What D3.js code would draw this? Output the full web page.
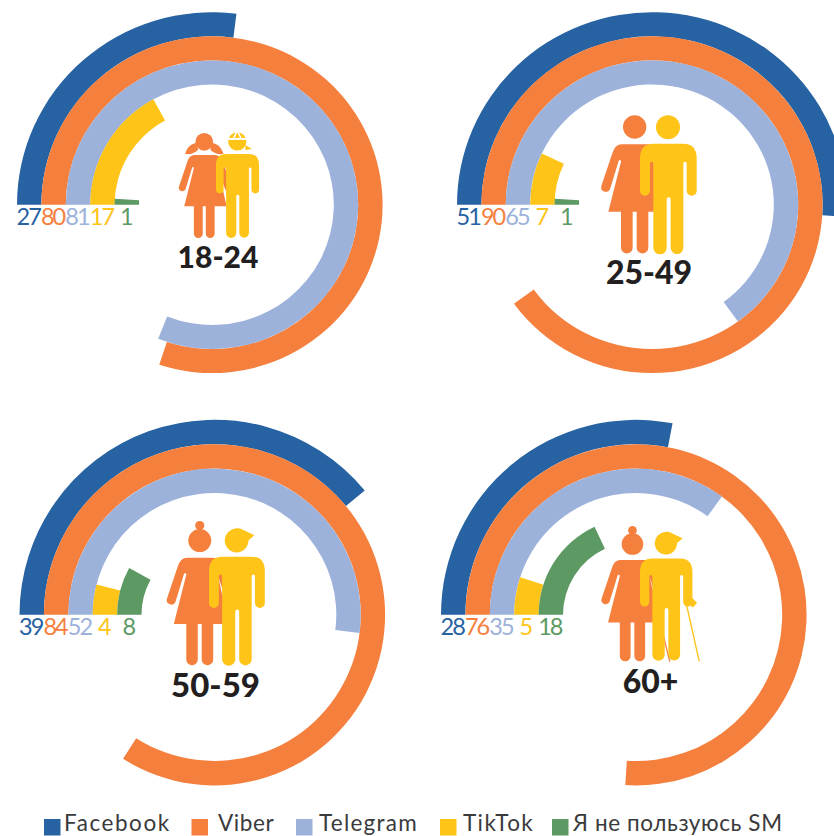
<!DOCTYPE html>
<html><head><meta charset="utf-8">
<script src="https://cdnjs.cloudflare.com/ajax/libs/d3/7.8.5/d3.min.js"></script>
<style>html,body{margin:0;padding:0;background:#fff;overflow:hidden}svg{display:block}</style>
</head><body>
<script>
const ageGroups = ["18-24","25-49","50-59","60+"];
const seriesNames = ["Facebook","Viber","Telegram","TikTok","Я не пользуюсь SM"];
const facebook = [27,51,39,28];
const viber = [80,90,84,76];
const telegram = [81,65,52,35];
const tiktok = [17,7,4,5];
const noSM = [1,1,8,18];
const seriesValues = [facebook,viber,telegram,tiktok,noSM];
const colors = ["#2762a3","#f5803e","#9db2db","#fec418","#5c9963"];

const W=834,H=836;
const svg=d3.select("body").append("svg").attr("width",W).attr("height",H);
const angle=d3.scaleLinear().domain([0,100]).range([-Math.PI/2,1.5*Math.PI]);
const radius=d3.scaleLinear().domain([0,5]).range([195,73]);
const arc=d3.arc();
const centers=[[212,204],[652,204],[214.5,614.5],[636,614.5]];
const ringSquash=[0.987,0.987,1,1];
const ringShift=[0.7,0.7,0.3,0.3];
const titleLayout=[[218,268,30],[649,284,32],[215.5,697,33],[650.5,693,32]];
const font="Lato, 'Noto Sans', sans-serif";

// figure shapes, in one shared icon space
const womanD="M545,133H625Q650,133 660,165L692,262A14,14 0 0 1 668,272L640,190L672,335H625V443A17.5,17.5 0 0 1 590,443V335H578V443A17.5,17.5 0 0 1 543,443V335H505L543,185A3.5,3.5 0 0 0 536,183L510,268A14,14 0 0 1 484,258L517,160Q525,133 545,133Z";
const manD="M640,131H730Q770,131 770,175V272A15,15 0 0 1 740,272V190A5,5 0 0 0 730,190V443A19,19 0 0 1 692,443V298A6,6 0 0 0 680,298V443A19,19 0 0 1 640,443V190A5,5 0 0 0 630,190V272A15,15 0 0 1 600,272V175Q600,131 640,131Z";
const figures=[
 {w:[56.3,121.3,.76],m:[64,120.7,.76],style:"young"},
 {w:[440,100,1],m:[440,100,1],style:"adult"},
 {w:[8,514,.985],m:[12,513.7,.985],style:"middle"},
 {w:[452,519,.927],m:[455,518,.925],style:"old"}
];

ageGroups.forEach((g,i)=>{
  const [cx,cy]=centers[i];
  const ring=svg.append("g").attr("transform",`translate(${cx},${cy+ringShift[i]}) scale(1,${ringSquash[i]})`);
  seriesValues.forEach((vals,s)=>{
    ring.append("path")
      .attr("d",arc({innerRadius:radius(s+1),outerRadius:radius(s),startAngle:angle(0),endAngle:angle(vals[i])}))
      .attr("fill",colors[s]);
    svg.append("text")
      .attr("x",cx-(radius(s)+radius(s+1))/2-1).attr("y",cy+20.5)
      .attr("text-anchor","middle").attr("font-family",font).attr("font-weight",400)
      .attr("font-size",23.5).attr("letter-spacing",-2).attr("fill",colors[s]).text(vals[i]);
  });
  const t=titleLayout[i];
  svg.append("text").attr("x",t[0]).attr("y",t[1]).attr("text-anchor","middle")
    .attr("font-family",font).attr("font-weight",900).attr("font-size",t[2]).attr("fill","#231f20").text(g);

  const f=figures[i];
  const wg=svg.append("g").attr("transform",`translate(${f.w[0]},${f.w[1]}) scale(${f.w[2]/3})`).attr("fill",colors[1]);
  const mg=svg.append("g").attr("transform",`translate(${f.m[0]},${f.m[1]}) scale(${f.m[2]/3})`).attr("fill",colors[3]);
  wg.append("circle").attr("cx",584).attr("cy",81).attr("r",35);
  wg.append("path").attr("d",womanD);
  if(f.style==="young"){
    wg.append("path").attr("d","M554,85Q520,90 508,128Q535,135 560,112Z");
    wg.append("path").attr("d","M614,85Q648,90 660,128Q633,135 608,112Z");
  }
  if(f.style==="middle"||f.style==="old"){
    wg.append("circle").attr("cx",584).attr("cy",f.style==="old"?37:35).attr("r",14);
  }
  if(f.style==="old"){
    wg.append("line").attr("x1",641).attr("y1",206).attr("x2",705).attr("y2",462).attr("stroke",colors[1]).attr("stroke-width",4);
  }
  mg.append("circle").attr("cx",684).attr("cy",82).attr("r",36);
  mg.append("path").attr("d",manD);
  if(f.style==="young"){
    mg.append("path").attr("d","M644,72L724,72").attr("stroke","#fff").attr("stroke-width",8);
    mg.append("path").attr("d","M684,40L670,68M684,40L698,68").attr("stroke","#fff").attr("stroke-width",6);
    mg.append("path").attr("d","M716,96L742,112L716,116Z");
  }
  if(f.style==="middle"||f.style==="old"){
    mg.append("path").attr("d","M655,60Q684,35 705,50L738,66L715,86Z");
  }
  if(f.style==="old"){
    mg.append("path").attr("d","M765,255L785,275L772,290L765,285Z");
    mg.append("line").attr("x1",751).attr("y1",282).attr("x2",792).attr("y2",464).attr("stroke",colors[3]).attr("stroke-width",4.5);
  }
});

const legendSquareX=[44,191.5,296,440,552];
const legendTextX=[64,218,319,463,573];
const legendSpacing=[1.55,0.6,1.25,1.4,0.6];
seriesNames.forEach((n,s)=>{
  svg.append("rect").attr("x",legendSquareX[s]).attr("y",819).attr("width",16.5).attr("height",16.5).attr("fill",colors[s]);
  svg.append("text").attr("x",legendTextX[s]).attr("y",831).attr("font-family",font).attr("font-size",22.5)
    .attr("letter-spacing",legendSpacing[s]).attr("fill","#3a3a3c").text(n);
});
</script>
</body></html>
